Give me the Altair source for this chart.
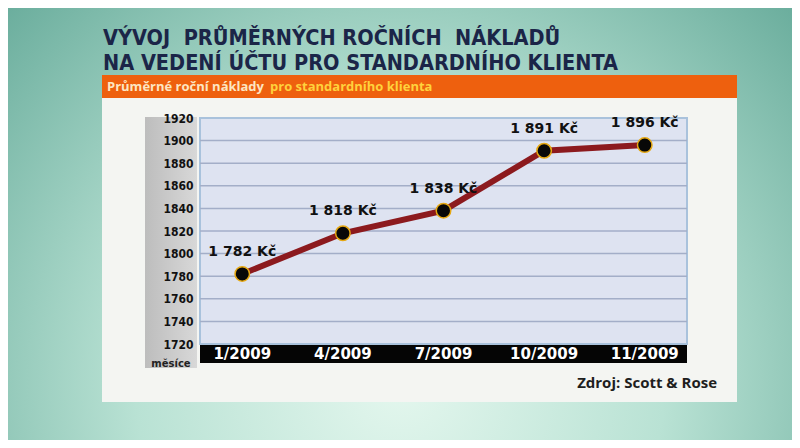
import altair as alt
import pandas as pd

# ---- data ----
months = ["1/2009", "4/2009", "7/2009", "10/2009", "11/2009"]
costs = [1782, 1818, 1838, 1891, 1896]
y_ticks = [1720, 1740, 1760, 1780, 1800, 1820, 1840, 1860, 1880, 1900, 1920]
title_lines = ["VÝVOJ\u00a0\u00a0PRŮMĚRNÝCH ROČNÍCH\u00a0\u00a0NÁKLADŮ",
               "NA VEDENÍ ÚČTU PRO STANDARDNÍHO KLIENTA"]
subtitle_a = "Průměrné roční náklady"
subtitle_b = "pro standardního klienta"
axis_note = "měsíce"
source_note = "Zdroj: Scott & Rose"


def fmt(v):
    return f"{v // 1000} {v % 1000:03d} Kč"


df = pd.DataFrame({"month": months, "cost": costs,
                   "label": [fmt(v) for v in costs]})
grid_df = pd.DataFrame({"v": y_ticks[1:-1]})

W, H = 487, 226
x_scale = alt.Scale(domain=months, padding=0.42)
y_scale = alt.Scale(domain=[y_ticks[0], y_ticks[-1]], nice=False, zero=False)
y_axis = alt.Axis(values=y_ticks, format="d", labelOverlap=False,
                  labelFlush=False, domain=False, ticks=False, grid=False,
                  labelPadding=7, labelFont="DejaVu Sans Condensed",
                  labelFontWeight="bold", labelFontSize=12,
                  labelColor="#111111", zindex=1, title=None)

one = pd.DataFrame({"k": [0]})


def box(x, x2, y, y2, **kw):
    return alt.Chart(one).mark_rect(**kw).encode(
        x=alt.value(x), x2=alt.value(x2), y=alt.value(y), y2=alt.value(y2))


def txt(s, x, y, **kw):
    return alt.Chart(pd.DataFrame({"t": [s]})).mark_text(**kw).encode(
        x=alt.value(x), y=alt.value(y), text="t:N")


# page origin of plot area = (200, 118)
bg = box(-192, 592, -110, 322,
         fill=alt.RadialGradient(
             gradient="radial", x1=0.5, y1=0.7, r1=0.0, x2=0.5, y2=0.7, r2=0.75,
             stops=[alt.GradientStop(offset=0, color="#e4f7ee"),
                    alt.GradientStop(offset=0.45, color="#b9e2d4"),
                    alt.GradientStop(offset=1, color="#5ea594")]))
panel = box(-98, 537, -20, 284, fill="#f4f5f2")
orange = box(-98, 537, -43, -20, fill="#ee600e")
ygray = box(-55, -3, -1, 250,
            fill=alt.LinearGradient(
                gradient="linear", x1=0, y1=0, x2=1, y2=0,
                stops=[alt.GradientStop(offset=0, color="#bdbdbd"),
                       alt.GradientStop(offset=1, color="#d8d8d8")]))
plotbg = box(0, W, 0, H, fill="#dee3f1", stroke="#a9c2dc", strokeWidth=2)
xband = box(0, W, H + 1, H + 19, fill="#050505")

title_font = "DejaVu Sans Condensed"
t1 = txt(title_lines[0], -97, -73, align="left", baseline="alphabetic",
         font=title_font, fontWeight="bold", fontSize=21.5, color="#1b2548")
t2 = txt(title_lines[1], -97, -48, align="left", baseline="alphabetic",
         font=title_font, fontWeight="bold", fontSize=21.5, color="#1b2548")
s1 = txt(subtitle_a, -93, -31, align="left", baseline="middle",
         font="Open Sans", fontWeight="bold", fontSize=13, color="#fde6c2")
s2 = txt(subtitle_b, 70, -31, align="left", baseline="middle",
         font="Open Sans", fontWeight="bold", fontSize=13, color="#ffd23c")
note = txt(axis_note, -29, 246, align="center", baseline="middle",
           font="DejaVu Sans", fontWeight="bold", fontSize=10, color="#222222")
src = txt(source_note, 517, 265, align="right", baseline="middle",
          font="Open Sans", fontWeight="bold", fontSize=15, color="#1e1e1e")

grid = alt.Chart(grid_df).mark_rule(color="#a3aec8", strokeWidth=1.5).encode(
    y=alt.Y("v:Q", scale=y_scale, axis=y_axis))

base = alt.Chart(df)
X = alt.X("month:N", scale=x_scale, sort=months, axis=None)
Y = alt.Y("cost:Q", scale=y_scale, axis=y_axis)

line = base.mark_line(color="#8c1a1e", strokeWidth=6).encode(x=X, y=Y)

pts = base.mark_point(filled=True, shape="circle", size=210, fill="#080808",
                      stroke="#e6a812", strokeWidth=1.5, opacity=1).encode(
    x=X, y=Y)

vals = base.mark_text(font="DejaVu Sans", fontWeight="bold", fontSize=14,
                      color="#111111", dy=-22, baseline="middle").encode(
    x=X, y=Y, text="label:N")

xlabels = base.mark_text(font="DejaVu Sans", fontWeight="bold", fontSize=15,
                         color="#ffffff", baseline="middle").encode(
    x=X, y=alt.value(H + 10), text="month:N")

chart = alt.layer(
    bg, panel, orange, ygray, plotbg, xband, grid,
    t1, t2, s1, s2, note, src,
    line, pts, vals, xlabels
).properties(width=W, height=H, padding=0).configure_view(stroke=None)

chart.save("out.html", embed_options={"renderer": "svg", "actions": False})
